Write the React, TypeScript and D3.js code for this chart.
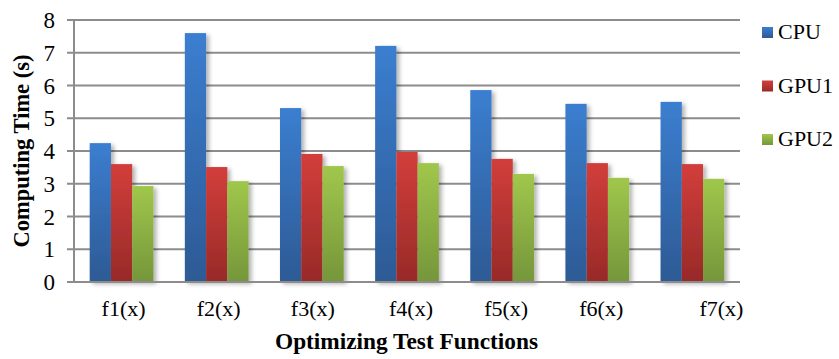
import React from "react";
import * as d3 from "d3";

const categories = ["f1(x)", "f2(x)", "f3(x)", "f4(x)", "f5(x)", "f6(x)", "f7(x)"];
const seriesNames = ["CPU", "GPU1", "GPU2"];
const cpu = [4.24, 7.6, 5.31, 7.21, 5.86, 5.44, 5.5];
const gpu1 = [3.6, 3.51, 3.91, 3.97, 3.76, 3.63, 3.6];
const gpu2 = [2.93, 3.08, 3.54, 3.63, 3.3, 3.18, 3.15];
const yTicks = [0, 1, 2, 3, 4, 5, 6, 7, 8];
const yTitle = "Computing Time (s)";
const xTitle = "Optimizing Test Functions";

const W = 839;
const H = 359;
const margin = { left: 74, right: 99, top: 20, bottom: 77 };
const labelShift = [2, 2, 1, 4, 4, 4, 29];
const gradients = [
  ["#3b7ed0", "#2d5a94"],
  ["#d23e3b", "#982a28"],
  ["#a0c74c", "#75963a"],
];

export default function App() {
  const values = [cpu, gpu1, gpu2];
  const x = d3
    .scaleBand<string>()
    .domain(categories)
    .range([margin.left, W - margin.right])
    .paddingInner(0.33)
    .paddingOuter(0.165);
  const xi = d3.scaleBand<string>().domain(seriesNames).range([0, x.bandwidth()]);
  const y = d3.scaleLinear().domain([0, 8]).range([H - margin.bottom, margin.top]);
  const font = "'Liberation Serif', 'Times New Roman', serif";
  const grid = "#8c8c8c";
  const x0 = margin.left;
  const x1 = W - margin.right;

  return (
    <svg
      width={W}
      height={H}
      style={{ position: "absolute", left: 0, top: 0, background: "#fff" }}
      fontFamily={font}
    >
      <defs>
        {gradients.map((g, i) => (
          <linearGradient key={i} id={`grad${i}`} x1="0" y1="0" x2="0" y2="1">
            <stop offset="0%" stopColor={g[0]} />
            <stop offset="100%" stopColor={g[1]} />
          </linearGradient>
        ))}
        <filter id="shadow" x="-30%" y="-10%" width="160%" height="130%">
          <feDropShadow dx="3" dy="2" stdDeviation="2" floodColor="#000" floodOpacity="0.3" />
        </filter>
      </defs>

      {yTicks.map((t) => (
        <line
          key={t}
          x1={x0 - 7}
          x2={x1}
          y1={y(t)}
          y2={y(t)}
          stroke={grid}
          strokeWidth={2}
        />
      ))}
      <line x1={x0} x2={x0} y1={y(8)} y2={y(0)} stroke={grid} strokeWidth={2} />

      {yTicks.map((t) => (
        <text
          key={t}
          x={55}
          y={y(t) + 8}
          textAnchor="end"
          fontSize={23}
          fill="#000"
        >
          {t}
        </text>
      ))}

      {categories.map((c, ci) => (
        <g key={c} transform={`translate(${x(c)},0)`} filter="url(#shadow)">
          {seriesNames.map((s, si) => (
            <rect
              key={s}
              x={xi(s)}
              y={y(values[si][ci])}
              width={xi.bandwidth()}
              height={y(0) - y(values[si][ci])}
              fill={`url(#grad${si})`}
            />
          ))}
        </g>
      ))}
      <line x1={x0} x2={x1} y1={y(0)} y2={y(0)} stroke={grid} strokeWidth={2} />

      {categories.map((c, ci) => (
        <text
          key={c}
          x={(x(c) as number) + x.bandwidth() / 2 + labelShift[ci]}
          y={316}
          textAnchor="middle"
          fontSize={22}
          fill="#000"
        >
          {c}
        </text>
      ))}

      <text
        x={406.5}
        y={349}
        textAnchor="middle"
        fontSize={24}
        fontWeight="bold"
        fill="#000"
        textLength={263}
        lengthAdjust="spacingAndGlyphs"
      >
        {xTitle}
      </text>
      <text
        transform={`translate(29,${(y(0) + y(8)) / 2}) rotate(-90)`}
        textAnchor="middle"
        fontSize={22.5}
        fontWeight="bold"
        fill="#000"
      >
        {yTitle}
      </text>

      {seriesNames.map((s, i) => (
        <g key={s} transform={`translate(762,${27 + i * 53.5})`}>
          <rect width={11} height={11} fill={`url(#grad${i})`} />
          <text x={16} y={12} fontSize={22} fill="#000">
            {s}
          </text>
        </g>
      ))}
    </svg>
  );
}
